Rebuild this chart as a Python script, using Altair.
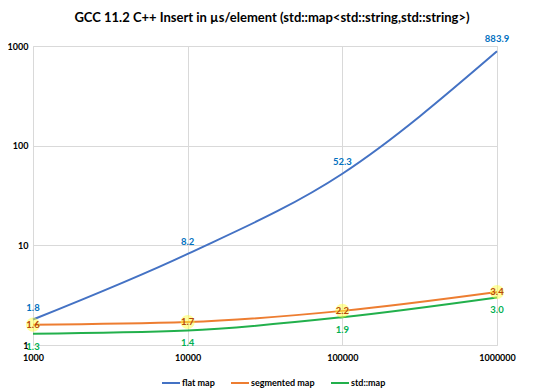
import altair as alt
import pandas as pd

sizes = [1000, 10000, 100000, 1000000]
flat_map = [1.8, 8.2, 52.3, 883.9]
segmented_map = [1.6, 1.7, 2.2, 3.4]
std_map = [1.3, 1.4, 1.9, 3.0]
series_names = ["flat map", "segmented map", "std::map"]
line_colors = ["#4472C4", "#ED7D31", "#22B04C"]

rows = []
for name, vals in zip(series_names, [flat_map, segmented_map, std_map]):
    for s, v in zip(sizes, vals):
        rows.append({"size": s, "value": v, "series": name, "label": f"{v:.1f}"})
df = pd.DataFrame(rows)

FONT = "Lato"
xs = alt.Scale(type="log", domain=[1000, 1000000], nice=False)
ys = alt.Scale(type="log", domain=[1, 1000], nice=False)

x = alt.X("size:Q", scale=xs,
          axis=alt.Axis(values=sizes, format="d", title=None, grid=True, ticks=False,
                        domain=False, labelFont=FONT, labelFontWeight="bold", labelFontSize=9,
                        labelColor="#000000", labelPadding=8, gridColor="#D9D9D9",
                        labelFlush=False))
y = alt.Y("value:Q", scale=ys,
          axis=alt.Axis(values=[1, 10, 100, 1000], format="d", title=None, grid=True, ticks=False,
                        domain=False, labelFont=FONT, labelFontWeight="bold", labelFontSize=9,
                        labelColor="#000000", labelPadding=5, gridColor="#D9D9D9"))

base = alt.Chart(df)

lines = base.mark_line(interpolate="monotone", strokeWidth=2).encode(
    x=x, y=y,
    color=alt.Color("series:N", scale=alt.Scale(domain=series_names, range=line_colors),
                    legend=alt.Legend(title=None, orient="none", legendX=128, legendY=327,
                                      direction="horizontal", symbolType="stroke",
                                      symbolSize=324, symbolStrokeWidth=2, labelFont=FONT,
                                      labelFontWeight="bold", labelFontSize=9,
                                      labelColor="#000000", labelOffset=1, columnPadding=12,
                                      padding=0)),
)

flat_lbl = base.transform_filter(alt.datum.series == "flat map").mark_text(
    font=FONT, fontWeight="bold", fontSize=9.5, color="#0070C0", dy=-12, baseline="middle"
).encode(x=alt.X("size:Q", scale=xs), y=alt.Y("value:Q", scale=ys), text="label:N")

seg_glow = base.transform_filter(alt.datum.series == "segmented map").mark_point(
    shape="circle", size=200, filled=True, color="#FFFF40", opacity=0.5
).encode(x=alt.X("size:Q", scale=xs), y=alt.Y("value:Q", scale=ys))

seg_lbl = base.transform_filter(alt.datum.series == "segmented map").mark_text(
    font=FONT, fontWeight="bold", fontSize=9.5, color="#B8460B", baseline="middle"
).encode(x=alt.X("size:Q", scale=xs), y=alt.Y("value:Q", scale=ys), text="label:N")

std_lbl = base.transform_filter(alt.datum.series == "std::map").mark_text(
    font=FONT, fontWeight="bold", fontSize=9.5, color="#00B050", dy=13, baseline="middle"
).encode(x=alt.X("size:Q", scale=xs), y=alt.Y("value:Q", scale=ys), text="label:N")

chart = alt.layer(lines, flat_lbl, seg_glow, seg_lbl, std_lbl).properties(
    width=464, height=299,
    autosize=alt.AutoSizeParams(type="none"),
    padding={"left": 25, "top": 38, "right": 39, "bottom": 45},
    title=alt.TitleParams("GCC 11.2 C++ Insert in µs/element (std::map<std::string,std::string>)",
                          font=FONT, fontSize=13, fontWeight="bold", color="#000000",
                          anchor="middle", offset=9, dx=7),
).configure_view(stroke=None).configure(background="#FFFFFF")

chart.save("out.html", embed_options={"renderer": "svg", "actions": False})
